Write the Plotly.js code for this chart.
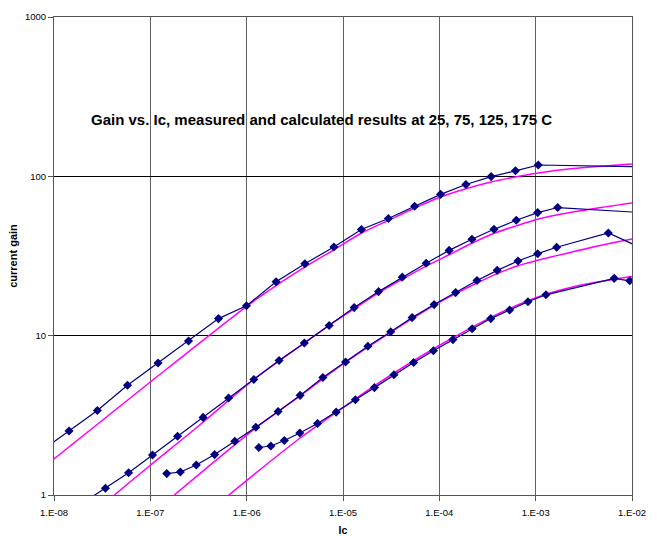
<!DOCTYPE html>
<html>
<head>
<meta charset="utf-8">
<script src="https://cdn.plot.ly/plotly-3.0.1.min.js"></script>
<style>html,body{margin:0;padding:0;background:#fff;}#chart{width:658px;height:536px;}</style>
</head>
<body>
<div id="chart"></div>
<script>
// Measured data (Ic in A, current gain)
const measA_x = [7.10e-9, 1.432e-8, 2.82e-8, 5.79e-8, 1.203e-7, 2.49e-7, 5.10e-7, 9.96e-7, 2.02e-6, 4.02e-6, 8.04e-6, 1.551e-5, 2.96e-5, 5.54e-5, 1.031e-4, 1.888e-4, 3.45e-4, 6.17e-4, 1.064e-3, 1.21e-2];
const measA_y = [1.862, 2.52, 3.39, 4.88, 6.74, 9.26, 12.8, 15.4, 21.8, 28.3, 36.0, 46.4, 54.4, 64.9, 77.1, 88.8, 99.6, 108.3, 117.8, 115.0];

const measB_x = [1.958e-8, 3.42e-8, 5.95e-8, 1.054e-7, 1.917e-7, 3.53e-7, 6.49e-7, 1.187e-6, 2.17e-6, 3.97e-6, 7.18e-6, 1.306e-5, 2.34e-5, 4.12e-5, 7.31e-5, 1.264e-4, 2.18e-4, 3.69e-4, 6.29e-4, 1.049e-3, 1.692e-3, 1.21e-2];
const measB_y = [0.887, 1.102, 1.378, 1.783, 2.335, 3.07, 4.06, 5.31, 6.98, 8.99, 11.58, 15.0, 18.9, 23.3, 28.5, 34.3, 40.3, 46.5, 53.0, 59.2, 63.7, 59.3];

const measC_x = [1.481e-7, 2.05e-7, 3.00e-7, 4.65e-7, 7.53e-7, 1.245e-6, 2.12e-6, 3.59e-6, 6.18e-6, 1.063e-5, 1.812e-5, 3.13e-5, 5.22e-5, 8.83e-5, 1.476e-4, 2.46e-4, 3.99e-4, 6.55e-4, 1.049e-3, 1.652e-3, 5.68e-3, 1.21e-2];
const measC_y = [1.362, 1.394, 1.543, 1.793, 2.173, 2.66, 3.34, 4.22, 5.46, 6.83, 8.58, 10.58, 12.98, 15.67, 18.64, 22.2, 25.7, 29.4, 32.7, 35.9, 44.1, 35.8];

const measD_x = [1.337e-6, 1.781e-6, 2.46e-6, 3.56e-6, 5.44e-6, 8.49e-6, 1.344e-5, 2.12e-5, 3.38e-5, 5.41e-5, 8.68e-5, 1.384e-4, 2.19e-4, 3.42e-4, 5.37e-4, 8.32e-4, 1.279e-3, 6.54e-3, 9.47e-3, 1.365e-2];
const measD_y = [1.987, 2.03, 2.20, 2.45, 2.81, 3.31, 3.96, 4.72, 5.68, 6.78, 8.04, 9.45, 11.04, 12.80, 14.50, 16.32, 18.05, 22.9, 22.1, 19.3];

// Calculated curves
const calc1_x = [1e-8, 1e-7, 1e-6, 2.04e-6, 4.05e-6, 8.04e-6, 1.559e-5, 2.97e-5, 5.54e-5, 1.031e-4, 1.888e-4, 3.43e-4, 6.14e-4, 1.064e-3, 2.44e-3, 1e-2];
const calc1_y = [1.682, 5.12, 15.29, 20.7, 27.0, 34.6, 44.1, 53.0, 63.3, 74.2, 83.5, 92.1, 99.1, 105.0, 111.8, 119.5];

const calc2_x = [4.22e-8, 1e-7, 3.26e-7, 1.187e-6, 3.99e-6, 7.18e-6, 1.306e-5, 2.34e-5, 4.12e-5, 7.31e-5, 1.258e-4, 2.18e-4, 3.69e-4, 6.29e-4, 1.049e-3, 1.692e-3, 3.66e-3, 1e-2];
const calc2_y = [1.0, 1.538, 2.75, 5.32, 9.02, 11.62, 14.74, 18.58, 22.6, 27.3, 32.2, 38.0, 43.9, 48.9, 53.8, 57.4, 62.1, 68.0];

const calc3_x = [1.772e-7, 1.245e-6, 3.59e-6, 1.063e-5, 3.12e-5, 8.83e-5, 1.476e-4, 2.46e-4, 3.99e-4, 6.55e-4, 1.049e-3, 1.652e-3, 5.68e-3, 1e-2];
const calc3_y = [1.0, 2.64, 4.19, 6.81, 10.50, 15.51, 18.37, 21.4, 24.5, 27.5, 29.7, 31.8, 37.8, 40.4];

const calc4_x = [6.52e-7, 3.56e-6, 1.045e-5, 2.13e-5, 5.41e-5, 1.384e-4, 3.42e-4, 8.32e-4, 1.279e-3, 2.88e-3, 6.54e-3, 1e-2];
const calc4_y = [1.0, 2.27, 3.60, 4.85, 6.96, 9.70, 13.04, 16.55, 18.19, 20.7, 22.6, 23.5];

const xTickVals = [1e-8, 1e-7, 1e-6, 1e-5, 1e-4, 1e-3, 1e-2];
const xTickText = ['1.E-08', '1.E-07', '1.E-06', '1.E-05', '1.E-04', '1.E-03', '1.E-02'];
const yTickVals = [1, 10, 100, 1000];
const yTickText = ['1', '10', '100', '1000'];

const chartTitle = 'Gain vs. Ic, measured and calculated results at 25, 75, 125, 175 C';

const navy = '#000080';
const magenta = '#FF00FF';

function meas(x, y) {
  return {x: x, y: y, type: 'scatter', mode: 'lines+markers',
    line: {color: navy, width: 1.2},
    marker: {symbol: 'diamond', size: 7, color: navy},
    cliponaxis: true, showlegend: false, hoverinfo: 'skip'};
}
function calc(x, y) {
  return {x: x, y: y, type: 'scatter', mode: 'lines',
    line: {color: magenta, width: 1.5, shape: 'spline', smoothing: 0.8},
    showlegend: false, hoverinfo: 'skip'};
}

const data = [
  calc(calc1_x, calc1_y), calc(calc2_x, calc2_y), calc(calc3_x, calc3_y), calc(calc4_x, calc4_y),
  meas(measA_x, measA_y), meas(measB_x, measB_y), meas(measC_x, measC_y), meas(measD_x, measD_y)
];

const fontFam = 'Liberation Sans, Arial, sans-serif';

const layout = {
  width: 658, height: 536,
  margin: {l: 54, r: 26, t: 17, b: 41, pad: 0},
  paper_bgcolor: '#fff', plot_bgcolor: '#fff',
  font: {family: fontFam, color: '#000', size: 9},
  xaxis: {
    type: 'log', range: [-8, -2], tickvals: xTickVals, ticktext: xTickText,
    showgrid: true, gridcolor: '#606060', gridwidth: 1,
    showline: true, linecolor: '#555', linewidth: 1, mirror: true,
    ticks: 'outside', ticklen: 5, tickcolor: '#555',
    tickfont: {family: fontFam, size: 9.5, color: '#000'},
    ticklabelstandoff: 4,
    zeroline: false,
    title: {text: '<b>Ic</b>', font: {family: fontFam, size: 10.5, color: '#000'}, standoff: 12}
  },
  yaxis: {
    type: 'log', range: [0, 3], tickvals: yTickVals, ticktext: yTickText,
    showgrid: true, gridcolor: '#000', gridwidth: 1,
    showline: true, linecolor: '#555', linewidth: 1, mirror: true,
    ticks: 'outside', ticklen: 5, tickcolor: '#555',
    tickfont: {family: fontFam, size: 9.5, color: '#000'},
    zeroline: false,
    title: {text: '<b>current gain</b>', font: {family: fontFam, size: 11, color: '#000'}, standoff: 5}
  },
  annotations: [{
    text: '<b>' + chartTitle + '</b>', xref: 'paper', yref: 'paper',
    x: 0.463, y: 0.785, xanchor: 'center', yanchor: 'middle', showarrow: false,
    font: {family: fontFam, size: 15, color: '#000'}
  }]
};

Plotly.newPlot('chart', data, layout, {staticPlot: true, displayModeBar: false});
</script>
</body>
</html>
